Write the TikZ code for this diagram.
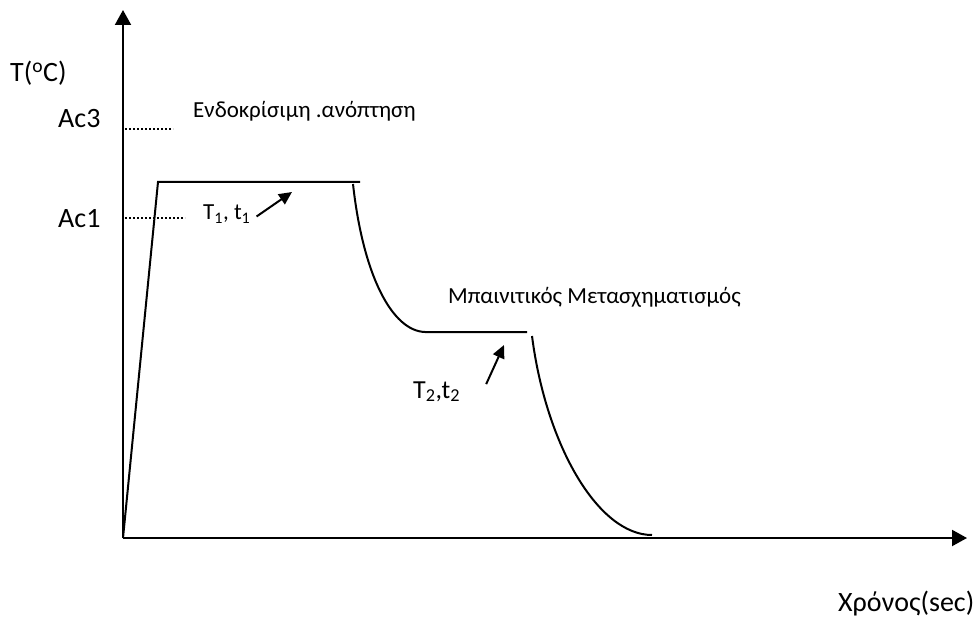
\documentclass[tikz,border=0pt]{standalone}
\usepackage{fontspec}
\setmainfont{Carlito}
\usetikzlibrary{arrows.meta}
\begin{document}
\begin{tikzpicture}[x=1pt,y=-1pt,
  axis/.style={line width=2pt,-{Triangle[length=15pt,width=16pt]}},
  curve/.style={line width=2pt},
  guide/.style={line width=2.4pt,dash pattern=on 2pt off 2pt},
  pointer/.style={line width=2pt,-{Triangle[length=13pt,width=12pt]}},
  lbl/.style={inner sep=0pt,anchor=base west},
  big/.style={lbl,font=\fontsize{28}{32}\selectfont},
  mid/.style={lbl,font=\fontsize{23}{27}\selectfont}]
\useasboundingbox (0,0) rectangle (976,617);
% key points
\coordinate (O) at (123,538);
\coordinate (ytip) at (123,10);
\coordinate (xtip) at (967,538);
\coordinate (r1) at (158,182);
\coordinate (p1e) at (360,182);
\coordinate (c1s) at (353,184);
\coordinate (c1e) at (425,332);
\coordinate (p2e) at (527,332);
\coordinate (c2s) at (532,336);
\coordinate (c2e) at (652,535);
\coordinate (d3s) at (125,129);
\coordinate (d3e) at (173,129);
\coordinate (d1s) at (125,218);
\coordinate (d1e) at (185,218);
\coordinate (a1t) at (292,192);
\coordinate (a2t) at (504,345);
% axes
\draw[axis] (O) -- (ytip);
\draw[axis] (O) -- (xtip);
% graph
\draw[curve] (O) -- (r1) -- (p1e);
\draw[curve] (c1s) .. controls (363,275) and (392,331) .. (c1e) -- (p2e);
\draw[curve] (c2s) .. controls (546,445) and (598,535) .. (c2e);
% guides
\draw[guide] (d3s) -- (d3e);
\draw[guide] (d1s) -- (d1e);
% labels
\node[big] (tc) at (10,82) {T(\textsuperscript{o}C)};
\node[big] (ac3) at (58,128) {Ac3};
\node[big] (ac1) at (58,228) {Ac1};
\node[big] (time) at (838,611) {Χρόνος(sec)};
\node[mid] (endo) at (193,118) {Ενδοκρίσιμη .ανόπτηση};
\node[mid] (bain) at (448,303) {Μπαινιτικός Μετασχηματισμός};
\node[mid] (t1) at (203,220) {T\textsubscript{1}, t\textsubscript{1}};
\node[lbl,font=\fontsize{26}{30}\selectfont] (t2) at (413,398) {T\textsubscript{2},t\textsubscript{2}};
% pointers
\draw[pointer] ([xshift=6pt,yshift=-2pt]t1.east) -- (a1t);
\draw[pointer] ([xshift=26pt,yshift=-3pt]t2.north east) -- (a2t);
\end{tikzpicture}
\end{document}
